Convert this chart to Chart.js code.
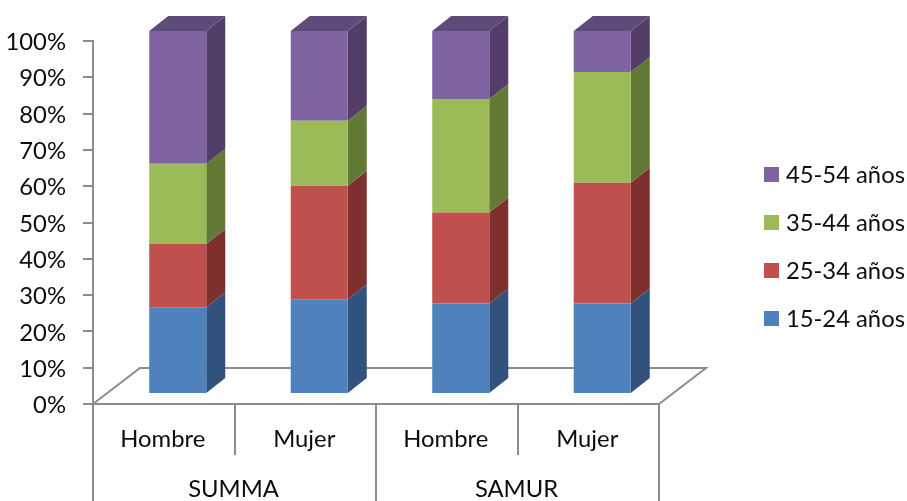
<!DOCTYPE html>
<html>
<head>
<meta charset="utf-8">
<style>
  html, body { margin: 0; padding: 0; background: #fff; }
  #wrap { width: 907px; height: 501px; }
</style>
<script src="https://cdn.jsdelivr.net/npm/chart.js@4"></script>
</head>
<body>
<div id="wrap"><canvas id="chart" width="907" height="501"></canvas></div>
<script>
const groups = ['SUMMA', 'SAMUR'];
const categories = ['Hombre', 'Mujer', 'Hombre', 'Mujer'];
const age15to24 = [23.9, 26.1, 24.9, 24.9];
const age25to34 = [17.4, 31.3, 25.1, 33.3];
const age35to44 = [22.1, 17.9, 31.3, 30.5];
const age45to54 = [36.6, 24.7, 18.7, 11.3];

const FONT = { family: 'Lato', size: 23.8 };
const AXIS = '#8c8c8c';
const TEXT = '#0d0d0d';

// Pseudo-3D geometry: bars sit inside a floor that recedes up and to the right.
const BAR_SHIFT = { x: 14, y: -10 };
const BAR_DEPTH = { x: 19, y: -15 };
const FLOOR_DEPTH = { x: 47, y: -36 };

function polygon(ctx, pts, fill) {
  ctx.beginPath();
  pts.forEach((p, i) => i ? ctx.lineTo(p[0], p[1]) : ctx.moveTo(p[0], p[1]));
  ctx.closePath();
  ctx.fillStyle = fill;
  ctx.fill();
}

// Legend swatch rendered as an image, so the gap to the label can be tighter
// than the half-font gap the legend reserves for a regular box. The spare
// rows below the square lift it slightly relative to the label's centre.
function swatch(color) {
  const c = document.createElement('canvas');
  c.width = 15;
  c.height = 17;
  const g = c.getContext('2d');
  g.fillStyle = color;
  g.fillRect(0, 0, 15, 15);
  return c;
}

const depthBars = {
  id: 'depthBars',
  afterLayout(chart) {
    // Legend floats in the right-hand margin, outside the plot.
    const lg = chart.legend;
    const pad = chart.options.plugins.legend.labels.padding;
    lg.left = 769 - pad;
    lg.right = 907;
    lg.top = 163.6 - pad;
    lg.bottom = 501;
  },
  beforeDatasetsDraw(chart) {
    const ctx = chart.ctx;
    const { left, right, bottom } = chart.chartArea;
    ctx.save();
    ctx.strokeStyle = AXIS;
    ctx.lineWidth = 2;
    ctx.beginPath();
    ctx.moveTo(left, bottom);
    ctx.lineTo(left + FLOOR_DEPTH.x, bottom + FLOOR_DEPTH.y);
    ctx.lineTo(right + FLOOR_DEPTH.x, bottom + FLOOR_DEPTH.y);
    ctx.lineTo(right, bottom);
    ctx.stroke();
    ctx.restore();

    ctx.save();
    ctx.translate(BAR_SHIFT.x, BAR_SHIFT.y);
    const last = chart.data.datasets.length - 1;
    chart.data.datasets.forEach((ds, di) => {
      chart.getDatasetMeta(di).data.forEach(bar => {
        const { x, y, base, width } = bar.getProps(['x', 'y', 'base', 'width'], true);
        const r = x + width / 2, l = x - width / 2;
        polygon(ctx, [[r, y], [r + BAR_DEPTH.x, y + BAR_DEPTH.y],
                      [r + BAR_DEPTH.x, base + BAR_DEPTH.y], [r, base]], ds.sideColor);
        if (di === last) {
          polygon(ctx, [[l, y], [l + BAR_DEPTH.x, y + BAR_DEPTH.y],
                        [r + BAR_DEPTH.x, y + BAR_DEPTH.y], [r, y]], ds.topColor);
        }
      });
    });
  },
  afterDatasetsDraw(chart) {
    chart.ctx.restore();
  }
};

function series(label, data, backgroundColor, sideColor, topColor) {
  return { label, data, backgroundColor, sideColor, topColor,
           stack: 'a', clip: false, barPercentage: 0.403, categoryPercentage: 1 };
}

new Chart(document.getElementById('chart'), {
  type: 'bar',
  plugins: [depthBars],
  data: {
    labels: categories,
    datasets: [
      series('15-24 años', age15to24, '#4f81bd', '#30527c', '#3a5f8c'),
      series('25-34 años', age25to34, '#c0504d', '#7d302e', '#8c3836'),
      series('35-44 años', age35to44, '#9bbb59', '#637a36', '#6f883e'),
      series('45-54 años', age45to54, '#8064a2', '#523e68', '#5f4b7a')
    ]
  },
  options: {
    responsive: false,
    animation: false,
    events: [],
    layout: { padding: { left: 0, top: 41, right: 248, bottom: 0 } },
    plugins: {
      tooltip: { enabled: false },
      legend: {
        position: 'chartArea',
        align: 'start',
        reverse: true,
        labels: {
          font: FONT,
          color: TEXT,
          usePointStyle: true,
          boxWidth: 5,
          boxHeight: 15,
          padding: 24.2,
          generateLabels(chart) {
            const items = Chart.defaults.plugins.legend.labels.generateLabels(chart);
            items.forEach(item => { item.pointStyle = swatch(item.fillStyle); });
            return items;
          }
        }
      }
    },
    scales: {
      x: {
        stacked: true,
        offset: true,
        border: { color: AXIS, width: 2 },
        grid: { offset: true, drawOnChartArea: false, tickLength: 51, color: AXIS, lineWidth: 2 },
        ticks: { font: FONT, color: TEXT, padding: -30, labelOffset: -1, maxRotation: 0, autoSkip: false },
        afterFit(s) { s.height = 51; }
      },
      groups: {
        type: 'category',
        position: 'bottom',
        labels: groups,
        offset: true,
        border: { display: false },
        grid: { offset: true, drawOnChartArea: false, tickLength: 46, color: AXIS, lineWidth: 2 },
        ticks: { font: FONT, color: TEXT, padding: -26, labelOffset: -1, maxRotation: 0, autoSkip: false },
        afterFit(s) { s.height = 46; }
      },
      y: {
        stacked: true,
        min: 0,
        max: 100,
        border: { color: AXIS, width: 2 },
        grid: { drawOnChartArea: false, tickLength: 10, color: AXIS, lineWidth: 2 },
        ticks: { stepSize: 10, font: FONT, color: TEXT, padding: 17, labelOffset: 1.5, callback: v => v + '%' },
        afterFit(s) { s.width = 93; }
      }
    }
  }
});
</script>
</body>
</html>
